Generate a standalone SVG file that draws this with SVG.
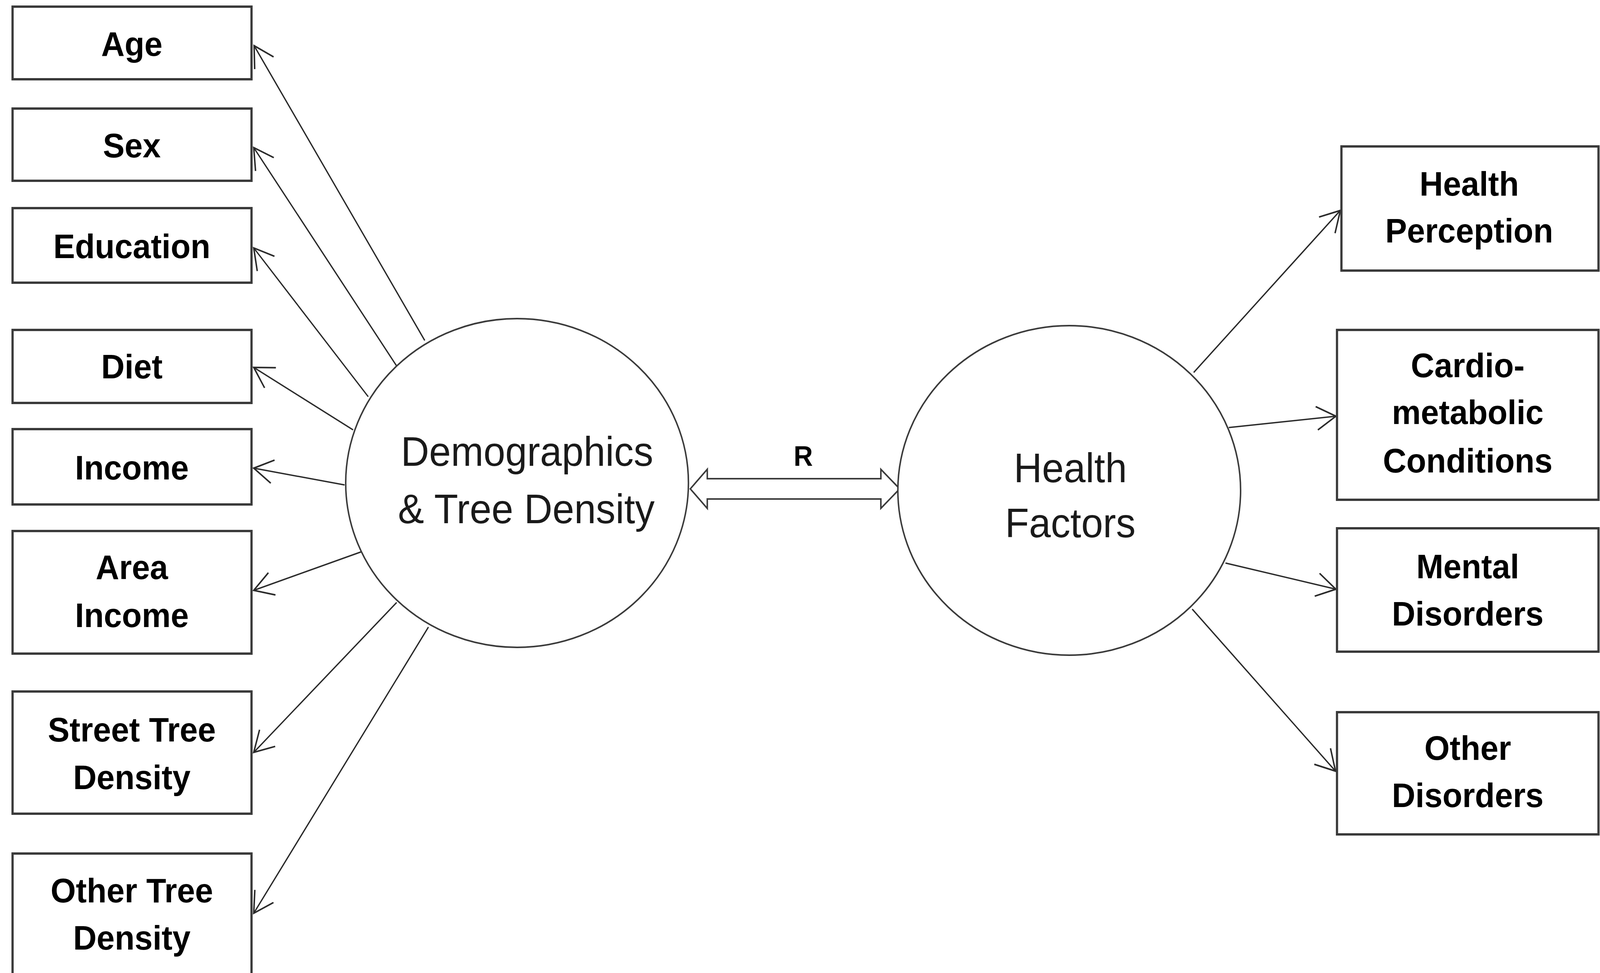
<svg xmlns="http://www.w3.org/2000/svg" width="4332" height="2492" viewBox="0 0 4332 2492">
<style>
.box{fill:#fff;stroke:#3a3a3a;stroke-width:6}
.ell{fill:#fff;stroke:#3a3a3a;stroke-width:4}
.lbl{font-family:"Liberation Sans",Arial,sans-serif;font-weight:bold;font-size:88px;fill:#000;text-anchor:middle}
.big{font-family:"Liberation Sans",Arial,sans-serif;font-size:106px;fill:#1a1a1a;text-anchor:middle}
.con{stroke:#2a2a2a;stroke-width:3.5;fill:none;marker-end:url(#arr)}
</style>
<defs>
<marker id="arr" markerUnits="userSpaceOnUse" viewBox="-70 -40 80 80" refX="0" refY="0" markerWidth="80" markerHeight="80" orient="auto">
<path d="M -52 -30 L 0 0 L -52 30" fill="none" stroke="#2a2a2a" stroke-width="4"/>
</marker>
</defs>
<rect width="4332" height="2492" fill="#fff"/>
<g transform="scale(0.9455 1)">
<g id="connectors">
<line class="con" x1="1150" y1="872" x2="688" y2="117"/>
<line class="con" x1="1073" y1="936" x2="687" y2="378"/>
<line class="con" x1="997" y1="1016" x2="687" y2="635"/>
<line class="con" x1="956" y1="1101" x2="687" y2="941"/>
<line class="con" x1="933" y1="1242" x2="687" y2="1199"/>
<line class="con" x1="979" y1="1413" x2="687" y2="1512"/>
<line class="con" x1="1074" y1="1543" x2="687" y2="1927"/>
<line class="con" x1="1160" y1="1606" x2="687" y2="2339"/>
<line class="con" x1="3232" y1="954" x2="3629" y2="539"/>
<line class="con" x1="3327" y1="1095" x2="3617" y2="1066"/>
<line class="con" x1="3318" y1="1442" x2="3617" y2="1509"/>
<line class="con" x1="3228" y1="1560" x2="3616" y2="1975"/>
<polygon points="1869,1252 1915,1202 1915,1226 2385,1226 2385,1202 2436,1252 2385,1302 2385,1278 1915,1278 1915,1302" fill="#fff" stroke="#3a3a3a" stroke-width="4" stroke-linejoin="miter"/>
<text class="lbl" x="2175" y="1193" style="font-size:72px">R</text>
</g>
<g id="demographics">
<ellipse class="ell" cx="1400" cy="1237" rx="464" ry="421"/>
<text class="big" x="1427" y="1193">Demographics</text>
<text class="big" x="1425" y="1340">&amp; Tree Density</text>
</g>
<g id="health-factors">
<ellipse class="ell" cx="2895" cy="1256" rx="464" ry="422"/>
<text class="big" x="2898" y="1235">Health</text>
<text class="big" x="2898" y="1376">Factors</text>
</g>
<g id="age"><rect class="box" x="34" y="17" width="647" height="186"/><text class="lbl" x="357" y="143">Age</text></g>
<g id="sex"><rect class="box" x="34" y="278" width="647" height="185"/><text class="lbl" x="357" y="403">Sex</text></g>
<g id="education"><rect class="box" x="34" y="533" width="647" height="191"/><text class="lbl" x="357" y="661">Education</text></g>
<g id="diet"><rect class="box" x="34" y="845" width="647" height="187"/><text class="lbl" x="357" y="969">Diet</text></g>
<g id="income"><rect class="box" x="34" y="1099" width="647" height="193"/><text class="lbl" x="357" y="1228">Income</text></g>
<g id="area-income"><rect class="box" x="34" y="1360" width="647" height="314"/><text class="lbl" x="357" y="1483">Area</text><text class="lbl" x="357" y="1606">Income</text></g>
<g id="street-tree-density"><rect class="box" x="34" y="1771" width="647" height="313"/><text class="lbl" x="357" y="1899">Street Tree</text><text class="lbl" x="357" y="2021">Density</text></g>
<g id="other-tree-density"><rect class="box" x="34" y="2186" width="647" height="330"/><text class="lbl" x="357" y="2311">Other Tree</text><text class="lbl" x="357" y="2432">Density</text></g>
<g id="health-perception"><rect class="box" x="3632" y="375" width="696" height="318"/><text class="lbl" x="3978" y="501">Health</text><text class="lbl" x="3978" y="621">Perception</text></g>
<g id="cardio-metabolic"><rect class="box" x="3620" y="845" width="708" height="435"/><text class="lbl" x="3974" y="966">Cardio-</text><text class="lbl" x="3974" y="1086">metabolic</text><text class="lbl" x="3974" y="1210">Conditions</text></g>
<g id="mental-disorders"><rect class="box" x="3620" y="1353" width="708" height="316"/><text class="lbl" x="3974" y="1481">Mental</text><text class="lbl" x="3974" y="1602">Disorders</text></g>
<g id="other-disorders"><rect class="box" x="3620" y="1824" width="708" height="313"/><text class="lbl" x="3974" y="1946">Other</text><text class="lbl" x="3974" y="2067">Disorders</text></g>
</g>
</svg>
